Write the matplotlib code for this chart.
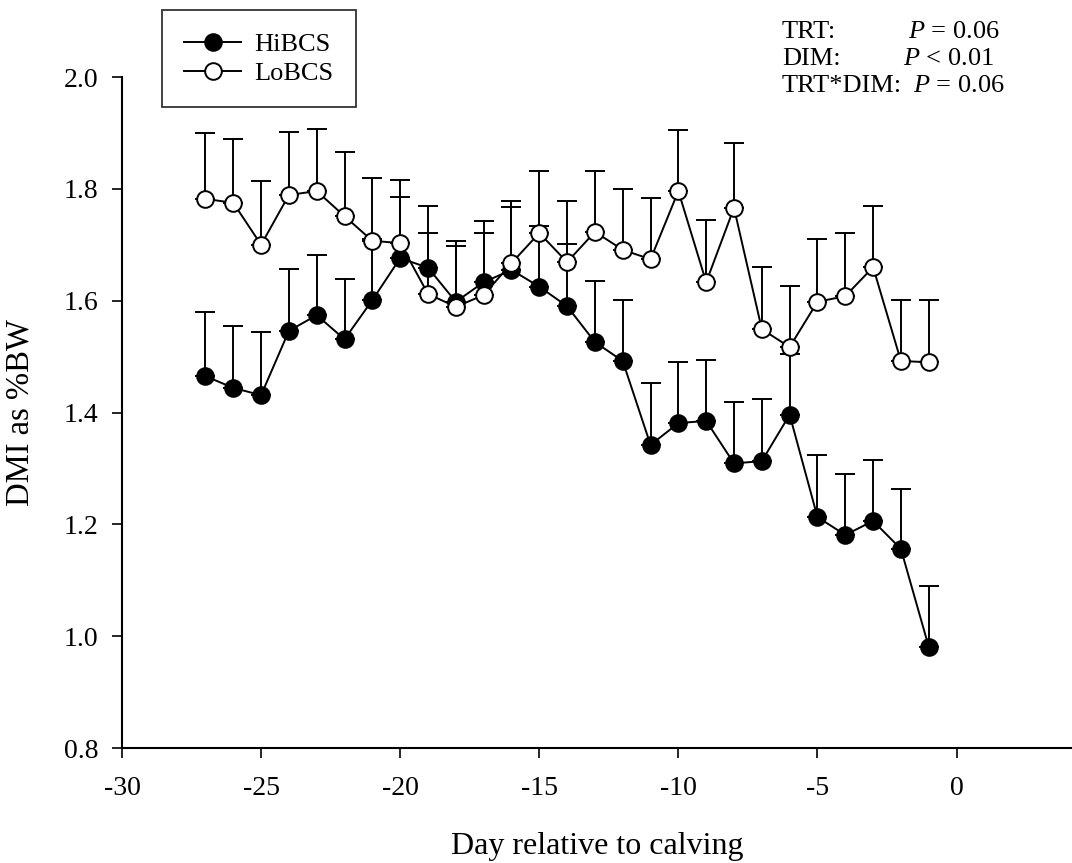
import matplotlib
matplotlib.use("Agg")
import matplotlib.pyplot as plt

# data (mean and upper SEM bar)
days = [-27, -26, -25, -24, -23, -22, -21, -20, -19, -18, -17, -16, -15, -14,
        -13, -12, -11, -10, -9, -8, -7, -6, -5, -4, -3, -2, -1]

hi_mean = [1.465, 1.444, 1.431, 1.546, 1.574, 1.531, 1.601, 1.676, 1.659, 1.598,
           1.633, 1.655, 1.625, 1.590, 1.526, 1.492, 1.342, 1.381, 1.385, 1.309,
           1.313, 1.396, 1.213, 1.181, 1.206, 1.156, 0.981]
hi_sem = [0.115, 0.111, 0.113, 0.111, 0.108, 0.108, 0.110, 0.109, 0.110, 0.109,
          0.109, 0.112, 0.108, 0.111, 0.109, 0.109, 0.111, 0.109, 0.109, 0.109,
          0.111, 0.109, 0.111, 0.109, 0.109, 0.107, 0.109]

lo_mean = [1.782, 1.775, 1.700, 1.789, 1.796, 1.751, 1.707, 1.703, 1.612, 1.589,
           1.610, 1.667, 1.721, 1.669, 1.723, 1.691, 1.674, 1.796, 1.633, 1.766,
           1.549, 1.517, 1.598, 1.608, 1.660, 1.492, 1.490]
lo_sem = [0.118, 0.114, 0.114, 0.113, 0.111, 0.115, 0.112, 0.113, 0.109, 0.109,
          0.111, 0.111, 0.111, 0.109, 0.109, 0.109, 0.110, 0.109, 0.111, 0.116,
          0.111, 0.109, 0.112, 0.113, 0.109, 0.109, 0.111]

stats_names = ["TRT:", "DIM:", "TRT*DIM:"]
stats_values = [r"$P$ = 0.06", r"$P$ < 0.01", r"$P$ = 0.06"]

plt.rcParams["font.family"] = ["Liberation Serif", "DejaVu Serif"]
plt.rcParams["mathtext.fontset"] = "custom"
plt.rcParams["mathtext.rm"] = "Liberation Serif"
plt.rcParams["mathtext.it"] = "Liberation Serif:italic"
plt.rcParams["axes.unicode_minus"] = False

W, H = 1072, 863
fig = plt.figure(figsize=(W / 100, H / 100), dpi=100)
ax = fig.add_axes([122 / W, 1 - 748 / H, (W - 122) / W, (748 - 77) / H])

zeros = [0] * len(days)
ax.errorbar(days, hi_mean, yerr=[zeros, hi_sem], fmt="none", ecolor="black",
            elinewidth=1.4, capsize=7.5, capthick=1.4, zorder=2)
ax.plot(days, hi_mean, color="black", lw=1.4, marker="o", ms=12,
        mfc="black", mec="black", mew=1.4, label="HiBCS", zorder=3)
ax.errorbar(days, lo_mean, yerr=[zeros, lo_sem], fmt="none", ecolor="black",
            elinewidth=1.4, capsize=7.5, capthick=1.4, zorder=4)
ax.plot(days, lo_mean, color="black", lw=1.4, marker="o", ms=12,
        mfc="white", mec="black", mew=1.4, label="LoBCS", zorder=5)

ax.set_xlim(-30, 4.15)
ax.set_ylim(0.8, 2.0)
ax.set_xticks(range(-30, 1, 5))
ax.set_yticks([0.8, 1.0, 1.2, 1.4, 1.6, 1.8, 2.0])
ax.set_yticklabels(["0.8", "1.0", "1.2", "1.4", "1.6", "1.8", "2.0"])
ax.tick_params(direction="out", length=7, width=1.2, labelsize=20, pad=10)
ax.tick_params(axis="x", pad=13.5)

for s in ["top", "right"]:
    ax.spines[s].set_visible(False)
for s in ["left", "bottom"]:
    ax.spines[s].set_linewidth(1.5)

ax.set_xlabel("Day relative to calving", fontsize=23, labelpad=22)
ax.set_ylabel("DMI as %BW", fontsize=23.5, labelpad=20)

leg = fig.legend(loc="upper left", bbox_to_anchor=(162 / W, 1 - 10 / H),
                 fontsize=19, frameon=True, fancybox=False, edgecolor="black",
                 handlelength=2.15, handletextpad=0.5, labelspacing=0.21,
                 borderpad=0.85, borderaxespad=0)
leg.get_frame().set_linewidth(1.3)

name_x = 782
value_x = [908, 903, 913]
baselines = [38, 65, 92]
for i in range(3):
    fig.text(name_x / W, 1 - baselines[i] / H, stats_names[i], fontsize=19,
             ha="left", va="baseline")
    fig.text(value_x[i] / W, 1 - baselines[i] / H, stats_values[i], fontsize=19,
             ha="left", va="baseline")

fig.savefig("out.png", dpi=100)
